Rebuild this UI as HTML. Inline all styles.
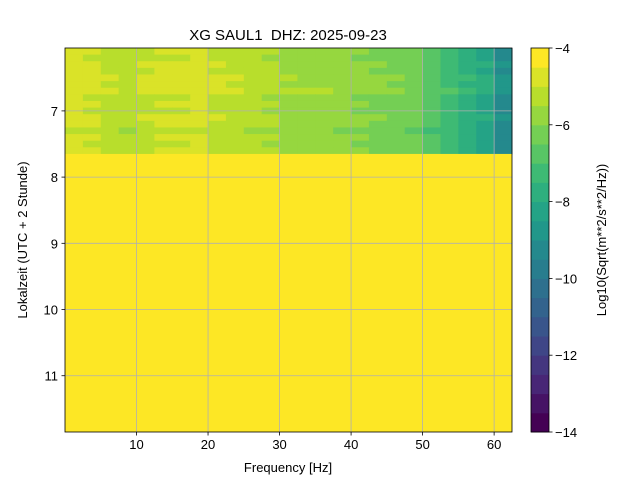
<!DOCTYPE html>
<html><head><meta charset="utf-8"><style>body{margin:0;background:#fff}svg{display:block}text{font-family:"Liberation Sans","DejaVu Sans",sans-serif;fill:#000}</style></head>
<body>
<svg id="c" width="640" height="480"></svg>
<script>
// data
const freqEdges=[0,2.5,5,7.5,10,12.5,15,17.5,20,22.5,25,27.5,30,32.5,35,37.5,40,42.5,45,47.5,50,52.5,55,57.5,60,62.5];
const freqProfile=[-4.9,-5.0,-5.2,-5.4,-5.1,-5.0,-5.0,-4.9,-5.1,-5.2,-5.4,-5.5,-5.7,-5.8,-5.8,-5.9,-6.0,-6.1,-6.2,-6.4,-6.9,-7.3,-7.7,-8.1,-9.1];
const timeEdges=[6.05,6.15,6.25,6.35,6.45,6.55,6.65,6.75,6.85,6.95,7.05,7.15,7.25,7.35,7.45,7.55,7.65];
const rowOffset=[0.0,-0.1,0.1,0.0,0.25,0.1,0.3,-0.1,0.0,-0.1,0.1,0.0,-0.2,0.05,-0.1,0.0];
const emptyStart=7.65, emptyEnd=11.85, emptyValue=-4;
const xTicks=[10,20,30,40,50,60];
const yTicks=[7,8,9,10,11];
const cbTicks=[-4,-6,-8,-10,-12,-14];
const vmin=-14,vmax=-4,nLevels=20;

const NS="http://www.w3.org/2000/svg";
const svg=document.getElementById('c');
const L=65,R=512,T=48,B=432;
const X=f=>L+(f-0)/(62.5-0)*(R-L);
const Y=t=>T+(t-6.05)/(11.85-6.05)*(B-T);
const vir=[[68,1,84],[72,40,120],[62,74,137],[49,104,142],[38,130,142],[31,158,137],[53,183,121],[109,205,89],[180,222,44],[253,231,37]];
function vcol(u){u=Math.max(0,Math.min(1,u));const p=u*(vir.length-1),i=Math.min(vir.length-2,Math.floor(p)),f=p-i;const c=vir[i].map((a,k)=>Math.round(a+(vir[i+1][k]-a)*f));return `rgb(${c})`;}
function levelColor(v){let i=Math.floor((v-vmin)/((vmax-vmin)/nLevels));i=Math.max(0,Math.min(nLevels-1,i));return vcol(i/(nLevels-1));}
function el(tag,attrs,txt){const e=document.createElementNS(NS,tag);for(const k in attrs)e.setAttribute(k,attrs[k]);if(txt!==undefined)e.textContent=txt;svg.appendChild(e);return e;}

for(let i=0;i<rowOffset.length;i++){for(let j=0;j<freqProfile.length;j++){
 const r=el('rect',{x:X(freqEdges[j]),y:Y(timeEdges[i]),width:X(freqEdges[j+1])-X(freqEdges[j])+0.5,height:Y(timeEdges[i+1])-Y(timeEdges[i])+0.5,fill:levelColor(freqProfile[j]+rowOffset[i])});
 
 
}}
const em=el('rect',{x:L,y:Y(emptyStart),width:R-L,height:Y(emptyEnd)-Y(emptyStart),fill:levelColor(emptyValue)});



xTicks.forEach(t=>{const g=el('line',{x1:X(t),x2:X(t),y1:T,y2:B,stroke:'#b0b0b0','stroke-width':0.8});
 el('line',{x1:X(t),x2:X(t),y1:B,y2:B+3.5,stroke:'#000','stroke-width':0.8});
 const tx=el('text',{x:X(t),y:B+17,'text-anchor':'middle','font-size':'13'},t);});
yTicks.forEach(t=>{const g=el('line',{x1:L,x2:R,y1:Y(t),y2:Y(t),stroke:'#b0b0b0','stroke-width':0.8});
 el('line',{x1:L-3.5,x2:L,y1:Y(t),y2:Y(t),stroke:'#000','stroke-width':0.8});
 const tx=el('text',{x:L-7,y:Y(t)+5,'text-anchor':'end','font-size':'13'},t);});
el('rect',{x:L,y:T,width:R-L,height:B-T,fill:'none',stroke:'#000','stroke-width':0.8});

// colorbar
const CL=531,CR=549;
const CY=v=>T+(vmax-v)/(vmax-vmin)*(B-T);
for(let i=0;i<nLevels;i++){const lo=vmin+i*(vmax-vmin)/nLevels,hi=lo+(vmax-vmin)/nLevels;
 const r=el('rect',{x:CL,y:CY(hi),width:CR-CL,height:CY(lo)-CY(hi)+0.5,fill:vcol(i/(nLevels-1))});
 
 }
el('rect',{x:CL,y:T,width:CR-CL,height:B-T,fill:'none',stroke:'#000','stroke-width':0.8});
cbTicks.forEach(t=>{el('line',{x1:CR,x2:CR+3.5,y1:CY(t),y2:CY(t),stroke:'#000','stroke-width':0.8});
 const tx=el('text',{x:CR+6,y:CY(t)+5,'font-size':'13'},'\u2212'+Math.abs(t));});
</script>
<div style="position:absolute;left:0;top:0;width:640px;height:480px;pointer-events:none">
<svg width="640" height="480">
<text x="288" y="40" text-anchor="middle" font-size="15" style="white-space:pre">XG SAUL1  DHZ: 2025-09-23</text>
<text x="288" y="472" text-anchor="middle" font-size="13">Frequency [Hz]</text>
<text transform="translate(27,240) rotate(-90)" text-anchor="middle" font-size="13">Lokalzeit (UTC + 2 Stunde)</text>
<text transform="translate(606,240) rotate(-90)" text-anchor="middle" font-size="13">Log10(Sqrt(m**2/s**2/Hz))</text>
</svg></div>
</body></html>
